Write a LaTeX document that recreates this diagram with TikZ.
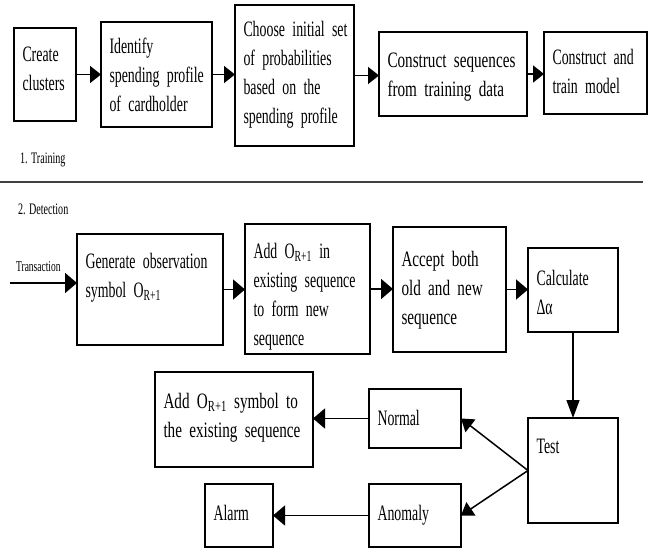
\documentclass[tikz,border=0pt]{standalone}
\usepackage{fontspec}
\setmainfont[FakeStretch=0.63]{Liberation Serif}
\newfontfamily\widerfont[FakeStretch=0.69]{Liberation Serif}
\usepackage{tikz}
\usetikzlibrary{arrows.meta,positioning,calc}
\hyphenpenalty=10000
\newcommand\boxfont{\fontsize{22}{29}\selectfont\fontdimen2\font=3.4pt\relax}
\newcommand\wideboxfont{\fontsize{22}{29}\selectfont\widerfont\fontdimen2\font=3.8pt\relax}
\newcommand\tagfont{\fontsize{16}{19}\selectfont}

\tikzset{
  blk/.style={draw, line width=1.4pt, anchor=north west, align=left,
    inner xsep=8.5pt, inner ysep=0pt, outer sep=0pt, font=\boxfont},
  wide/.style={font=\wideboxfont},
  tag/.style={anchor=base west, inner sep=0pt, font=\tagfont},
  flow/.style={-{Triangle[length=11pt,width=17pt]}, line width=1.8pt},
  flowd/.style={-{Triangle[length=12pt,width=20pt]}, line width=1.8pt},
}

\begin{document}
\begin{tikzpicture}[x=1pt,y=-1pt]
  \useasboundingbox (0,0) rectangle (650,548);
  % 1. training
  \node[blk, text width=45pt, text height=34pt, text depth=59pt] (clus) at (14,28) {Create\\clusters};
  \node[blk, text width=94pt, text height=32pt, text depth=73pt] (ident) at (101,22) {Identify\\spending~profile\\of~cardholder};
  \node[blk, text width=102pt, text height=32pt, text depth=109pt] (choose) at (235,5) {Choose~initial~set\\of~probabilities\\based~on~the\\spending~profile};
  \node[blk, wide, text width=131pt, text height=36pt, text depth=48pt] (cseq) at (379,32) {Construct~sequences\\from~training~data};
  \node[blk, text width=86pt, text height=33pt, text depth=49pt] (ctrain) at (544,32) {Construct~and\\train~model};
  \draw[flow] (clus) -- (ident);
  \draw[flow] (ident.east) -- (ident.east -| choose.west);
  \draw[flow] (choose.east) -- (choose.east -| cseq.west);
  \draw[flow] (cseq.east) -- (cseq.east -| ctrain.west);
  \node[tag] (train) at (20,164) {1. Training};

  \coordinate (sepl) at (0,182);
  \coordinate (sepr) at (643,182);
  \draw[line width=2.5pt, black!75] (sepl) -- (sepr);

  % 2. detection
  \node[tag] (detect) at (18,214) {2. Detection};
  \node[tag, font=\fontsize{15}{18}\selectfont] (trans) at (16,271) {Transaction};
  \node[blk, text width=129pt, text height=34pt, text depth=77pt] (gen) at (77,234) {Generate~observation\\symbol~O\textsubscript{R+1}};
  \node[blk, text width=108pt, text height=34pt, text depth=96pt] (addo) at (245,224) {Add~O\textsubscript{R+1}~in\\existing~sequence\\to~form~new\\sequence};
  \node[blk, wide, text width=96pt, text height=39pt, text depth=86pt] (accept) at (393,227) {Accept~both\\old~and~new\\sequence};
  \node[blk, text width=73pt, text height=37pt, text depth=47pt] (calc) at (528,248) {Calculate\\Δα};
  \node[blk, text width=73pt, text height=35pt, text depth=70pt] (test) at (528,418) {Test};
  \node[blk, text width=75pt, text height=36pt, text depth=23pt] (normal) at (369,389) {Normal};
  \node[blk, text width=75pt, text height=36pt, text depth=27pt] (anomaly) at (369,484) {Anomaly};
  \node[blk, wide, text width=141pt, text height=36pt, text depth=59pt] (addsym) at (155,372) {Add~O\textsubscript{R+1}~symbol~to\\the~existing~sequence};
  \node[blk, text width=51pt, text height=36pt, text depth=27pt] (alarm) at (205,484) {Alarm};

  \coordinate (tin) at (10,283);
  \draw[flowd] (tin) -- (tin -| gen.west);
  \draw[flowd] (gen.east) -- (gen.east -| addo.west);
  \draw[flowd] (addo.east) -- (addo.east -| accept.west);
  \draw[flowd] (accept.east) -- (accept.east -| calc.west);
  \draw[-{Triangle[length=18pt,width=13pt]}, line width=1.4pt] (calc.south) -- (test.north);
  \draw[-{Triangle[length=12pt,width=16pt]}, line width=1.5pt] (test.west) -- (normal.east);
  \draw[-{Triangle[length=12pt,width=16pt]}, line width=1.5pt] (test.west) -- (anomaly.east);
  \draw[flowd, line width=1.5pt] (normal.west) -- (normal.west -| addsym.east);
  \draw[flowd, line width=1.5pt] (anomaly) -- (alarm);
\end{tikzpicture}
\end{document}
